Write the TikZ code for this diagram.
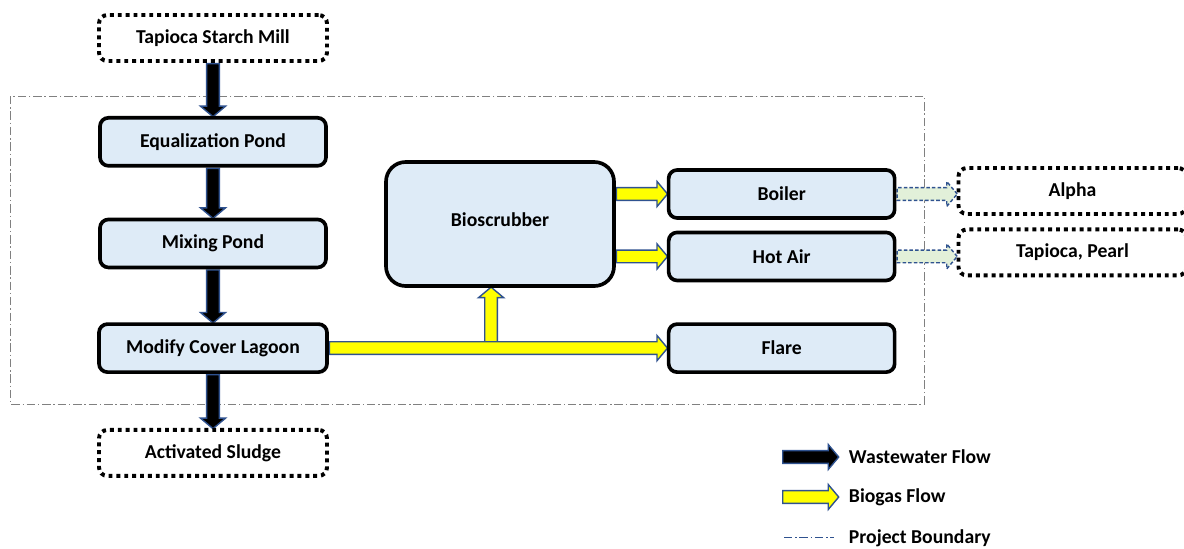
\documentclass[tikz,border=0pt]{standalone}
\usepackage{fontspec}
\setmainfont{Carlito}
\usetikzlibrary{positioning, shapes.arrows, calc, backgrounds}
\pgfdeclarelayer{background}
\pgfsetlayers{background,main}
\definecolor{boxfill}{HTML}{DEEBF7}
\definecolor{arrowline}{HTML}{2F528F}
\definecolor{gasyellow}{HTML}{FFFF00}
\definecolor{outfill}{HTML}{E2F0D9}
\definecolor{boundgray}{HTML}{808080}
\newcommand{\Flow}[3]{%
  \path let \p1=(#2), \p2=(#3), \n1={atan2(\y2-\y1,\x2-\x1)}, \n2={veclen(\x2-\x1,\y2-\y1)}
    in node[#1, minimum height=\n2, rotate=\n1, anchor=tail] at (\p1) {};}
\tikzset{
    unit/.style={draw, line width=2.6pt, rounded corners=6pt, fill=boxfill,
      minimum width=5.65cm, minimum height=1.2cm, font=\fontsize{14}{16}\selectfont\bfseries},
    ext/.style={draw, line width=2.8pt, dash pattern=on 2.8pt off 2.8pt, rounded corners=6pt,
      minimum width=5.7cm, minimum height=1.15cm, font=\fontsize{14}{16}\selectfont\bfseries},
    flow/.style={single arrow, draw=arrowline, line width=1pt, inner sep=4pt,
      single arrow head extend=4.4pt, single arrow tip angle=100},
    water/.style={flow, fill=black},
    gas/.style={flow, fill=gasyellow},
    product/.style={flow, fill=outfill, dash pattern=on 2.5pt off 1.5pt},
    boundary/.style={draw=boundgray, line width=0.6pt, dash pattern=on 6pt off 2pt on 1pt off 2pt},
    legend/.style={anchor=west, font=\fontsize{14}{16}\selectfont\bfseries},
}
\begin{document}
\begin{tikzpicture}[node distance=1.3cm]
    \useasboundingbox (0,0) rectangle (29.6,-13.7);

    % wastewater line
    \node[ext] (mill) at (5.325,-0.95) {Tapioca Starch Mill};
    \node[unit, below=1.325cm of mill] (eq) {Equalization Pond};
    \node[unit, below=1.25cm of eq] (mix) {Mixing Pond};
    \node[unit, minimum width=5.7cm, below=1.325cm of mix] (lagoon) {Modify Cover Lagoon};
    \node[ext, below=1.35cm of lagoon] (sludge) {Activated Sludge};

    % biogas line
    \node[unit, right=8.45cm of lagoon] (flare) {Flare};
    \node[unit, above=1.0cm of flare] (hotair) {Hot Air};
    \node[unit, above=0.27cm of hotair] (boiler) {Boiler};
    \node[unit, rounded corners=14pt, minimum width=5.7cm, minimum height=3.1cm] (bio) at (12.5,-5.6) {\raisebox{6pt}{Bioscrubber}};
    \node[ext, right=1.5cm of boiler, yshift=0.075cm] (alpha) {Alpha};
    \node[ext, right=1.5cm of hotair, yshift=0.1cm] (pearl) {Tapioca, Pearl};

    % legend
    \node[legend] (legww) at (21.1,-11.425) {Wastewater Flow};
    \node[legend] (leggas) at (21.1,-12.425) {Biogas Flow};
    \node[legend] (legpb) at (21.1,-13.45) {Project Boundary};
    \coordinate (ww0) at ($(legww.west)+(-1.55,0)$);
    \coordinate (ww1) at ($(legww.west)+(-0.15,0)$);
    \coordinate (gas0) at ($(leggas.west)+(-1.55,0)$);
    \coordinate (gas1) at ($(leggas.west)+(-0.15,0)$);
    \coordinate (pb0) at ($(legpb.west)+(-1.5,0.02)$);
    \coordinate (pb1) at ($(legpb.west)+(-0.25,0.02)$);

    \coordinate (tee) at ($(lagoon.east)!0.48!(flare.west)$);
    \coordinate (bioin) at (tee |- bio.south);

    \begin{pgfonlayer}{background}
      \draw[boundary] (0.25,-2.4) rectangle (23.1,-10.1);
      \Flow{water}{mill.south}{eq.north}
      \Flow{water}{eq.south}{mix.north}
      \Flow{water}{mix.south}{lagoon.north}
      \Flow{water}{lagoon.south}{sludge.north}
      \Flow{gas}{tee}{bioin}
      \Flow{gas}{lagoon.east}{flare.west}
      \Flow{gas}{bio.east |- boiler}{boiler.west}
      \Flow{gas}{bio.east |- hotair}{hotair.west}
      \Flow{product}{boiler.east}{boiler.east -| alpha.west}
      \Flow{product}{hotair.east}{hotair.east -| pearl.west}
    \end{pgfonlayer}
    \Flow{water}{ww0}{ww1}
    \Flow{gas}{gas0}{gas1}
    \draw[boundary, draw=arrowline] (pb0) -- (pb1);
\end{tikzpicture}
\end{document}
